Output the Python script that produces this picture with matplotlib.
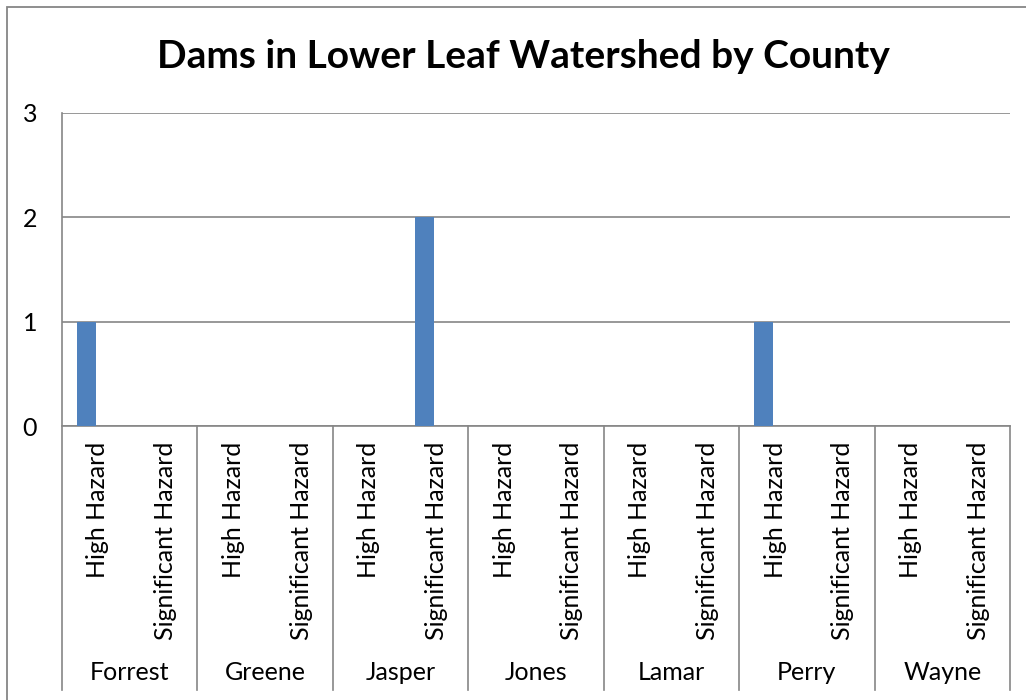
import matplotlib
matplotlib.use("Agg")
import matplotlib.pyplot as plt
from matplotlib.patches import Rectangle
import numpy as np

plt.rcParams['font.family'] = ['Lato', 'DejaVu Sans']

counties = ["Forrest", "Greene", "Jasper", "Jones", "Lamar", "Perry", "Wayne"]
hazard_classes = ["High Hazard", "Significant Hazard"]
# dam counts per county, ordered [High Hazard, Significant Hazard]
dam_counts = [1, 0,
              0, 0,
              0, 2,
              0, 0,
              0, 0,
              1, 0,
              0, 0]
# second (empty) series sharing the same categories
second_series = [0] * 14
y_ticks = [0, 1, 2, 3]

W, H = 1026, 700
fig = plt.figure(figsize=(W / 100, H / 100), dpi=100)
grey = "#868686"
bar_blue = "#4F81BD"
label_size = 18

# outer chart frame
fig.add_artist(Rectangle((7 / W, -0.5), 2.0, 1 - 7 / H + 0.5,
                         transform=fig.transFigure, fill=False,
                         edgecolor=grey, linewidth=1.3))

left, right = 62 / W, 1010 / W
bottom, top = 1 - 426 / H, 1 - 113 / H
ax = fig.add_axes([left, bottom, right - left, top - bottom])

n = len(dam_counts)
x = np.arange(n)
w = 1 / 3.5
ax.bar(x - w / 2, dam_counts, width=w, color=bar_blue, zorder=3)
ax.bar(x + w / 2, second_series, width=w, color="#C0504D", zorder=3)

ax.set_xlim(-0.5, n - 0.5)
ax.set_ylim(0, 3)
ax.set_yticks(y_ticks)
ax.set_yticklabels([str(t) for t in y_ticks], fontsize=label_size)
ax.tick_params(axis='y', length=0, pad=18)
ax.tick_params(axis='x', length=0, labelbottom=False)
ax.grid(axis='y', color=grey, linewidth=1.2, zorder=1)
for s in ["top", "right"]:
    ax.spines[s].set_visible(False)
ax.spines["bottom"].set_color(grey)
ax.spines["bottom"].set_linewidth(1.2)
ax.spines["left"].set_visible(False)

# multi-level category axis
xt = ax.get_xaxis_transform()
axis_depth = (690 - 426) / (426 - 113)
ax.plot([-0.5, -0.5], [-axis_depth, 1], transform=xt, color=grey,
        linewidth=1.2, clip_on=False, zorder=4)
for k in range(1, len(counties) + 1):
    xb = 2 * k - 0.5
    ax.plot([xb, xb], [-axis_depth, 0], transform=xt, color=grey,
            linewidth=1.2, clip_on=False)

label_top = -(442 - 426) / (426 - 113)
for i in range(n):
    ax.text(i + 0.03, label_top, hazard_classes[i % 2], transform=xt,
            rotation=90, ha="center", va="top", fontsize=label_size)
name_y = -(673 - 426) / (426 - 113)
for j, c in enumerate(counties):
    ax.text(2 * j + 0.5, name_y, c, transform=xt, ha="center",
            va="center", fontsize=label_size)

fig.text(523 / W, 1 - 57 / H, "Dams in Lower Leaf Watershed by County",
         ha="center", va="center", fontsize=28, fontweight="bold")

fig.savefig("out.png", dpi=100)
